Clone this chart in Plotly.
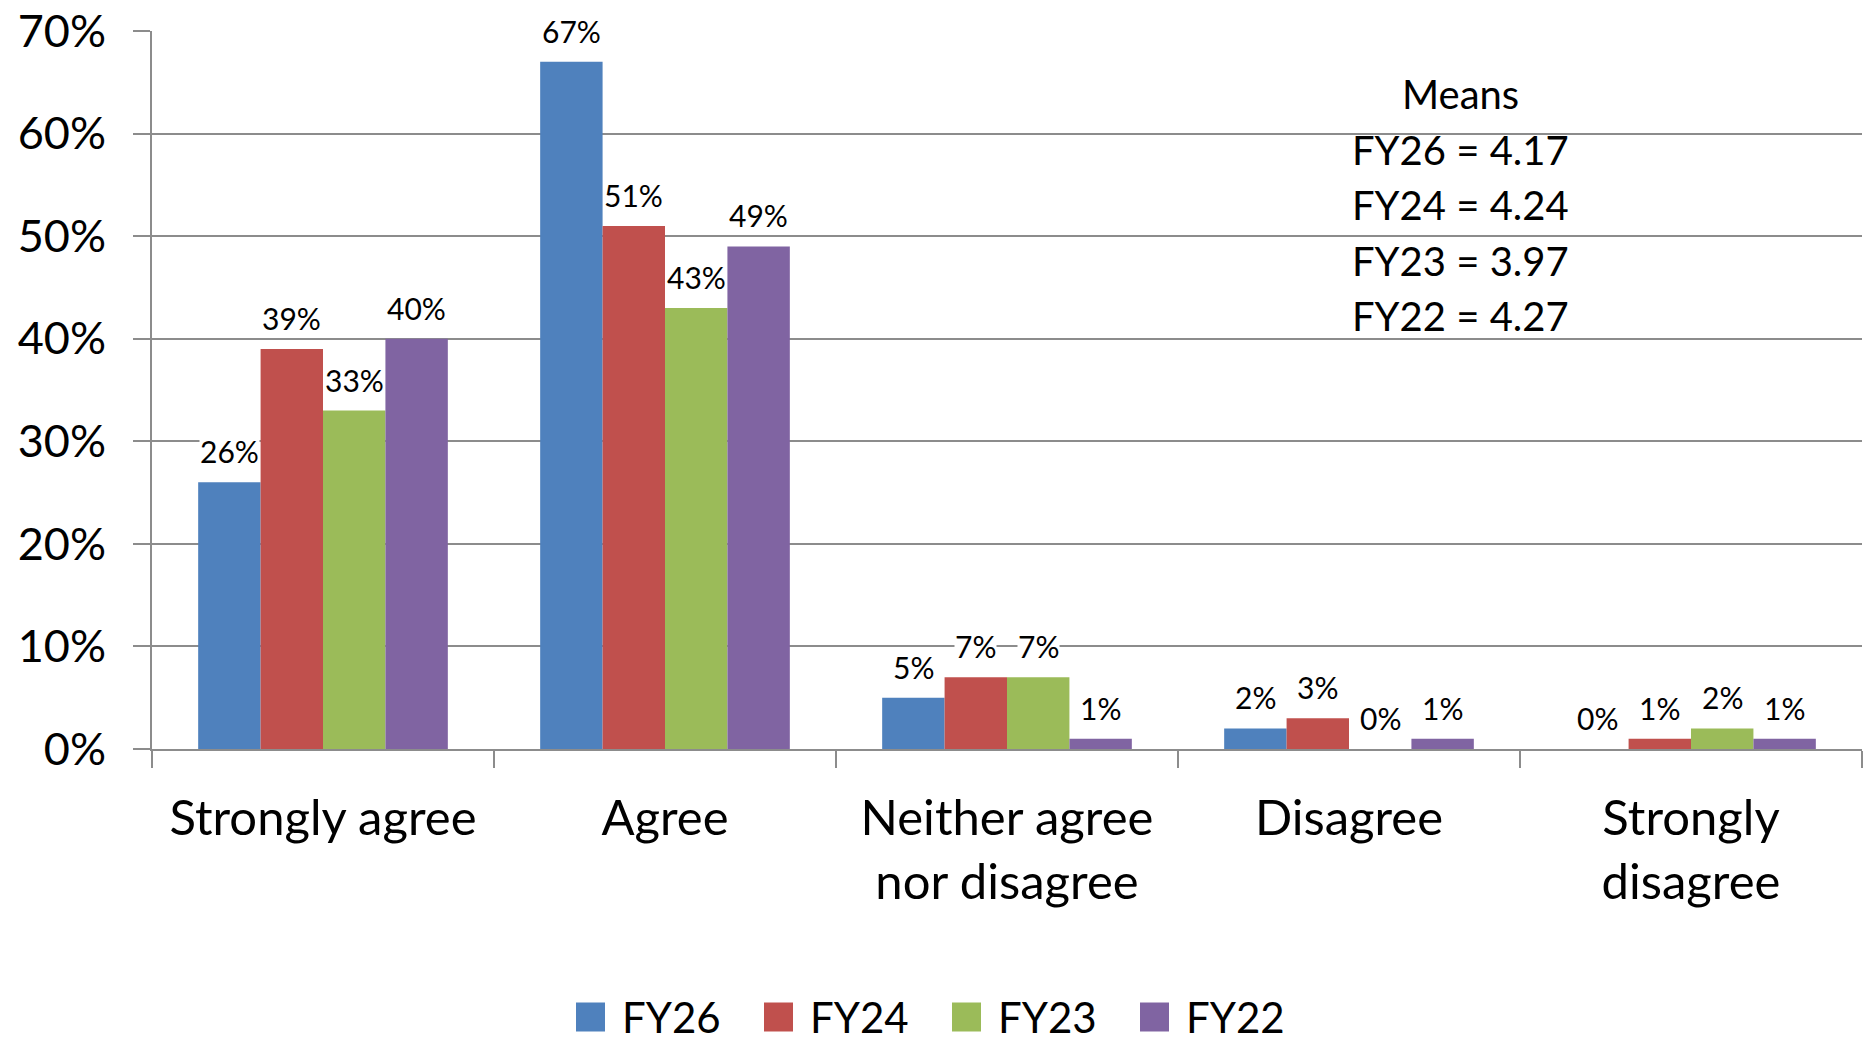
import plotly.graph_objects as go

# Survey response categories and the share of respondents per fiscal year
categories = ["Strongly agree", "Agree", "Neither agree<br>nor disagree", "Disagree", "Strongly<br>disagree"]
series_names = ["FY26", "FY24", "FY23", "FY22"]
fy26 = [0.26, 0.67, 0.05, 0.02, 0.00]
fy24 = [0.39, 0.51, 0.07, 0.03, 0.01]
fy23 = [0.33, 0.43, 0.07, 0.00, 0.02]
fy22 = [0.40, 0.49, 0.01, 0.01, 0.01]
means = [4.17, 4.24, 3.97, 4.27]
y_ticks = [0.0, 0.1, 0.2, 0.3, 0.4, 0.5, 0.6, 0.7]

series_values = [fy26, fy24, fy23, fy22]
colors = ["#4F81BD", "#C0504D", "#9BBB59", "#8064A2"]

FONT = "Lato"
W, H = 1866, 1042
M_L, M_R, M_T, M_B = 152, 4, 31, 293
PLOT_W = W - M_L - M_R
PLOT_H = H - M_T - M_B
BARGAP = 0.27
GRID = "#8C8C8C"


def px_x(px):
    return (px - M_L) / PLOT_W


def px_y(py):
    return (H - M_B - py) / PLOT_H


fig = go.Figure()
for name, vals, col in zip(series_names, series_values, colors):
    fig.add_trace(go.Bar(
        name=name, x=categories, y=vals,
        marker=dict(color=col, line=dict(width=0)),
        showlegend=False,
    ))

# value labels above each bar, on a white patch that hides the gridlines
group_px = PLOT_W / len(categories)
bar_px = group_px * (1 - BARGAP) / len(series_names)
annotations = []
for i, (vals, col) in enumerate(zip(series_values, colors)):
    offset = (i - (len(series_names) - 1) / 2) * bar_px
    for cat, v in zip(categories, vals):
        annotations.append(dict(
            x=cat, y=v, xref="x", yref="y",
            text=f"{round(v * 100)}%", showarrow=False,
            xanchor="center", yanchor="middle",
            xshift=offset, yshift=31,
            font=dict(family=FONT, size=30, color="black"),
            bgcolor="white", borderpad=0,
        ))

# means block
mean_lines = ["Means"] + [f"{n} = {m:.2f}" for n, m in zip(series_names, means)]
for k, line in enumerate(mean_lines):
    annotations.append(dict(
        x=px_x(1460), y=px_y(94), xref="paper", yref="paper",
        text=line, showarrow=False, xanchor="center", yanchor="middle",
        yshift=-55.5 * k,
        font=dict(family=FONT, size=40, color="black"),
    ))

# legend: coloured squares with series names
shapes = []
leg_x0 = 576
leg_step = 188
leg_cy = 1017
for i, (name, col) in enumerate(zip(series_names, colors)):
    sx = leg_x0 + i * leg_step
    shapes.append(dict(
        type="rect", xref="paper", yref="paper",
        x0=px_x(sx), x1=px_x(sx + 29), y0=px_y(leg_cy + 14.5), y1=px_y(leg_cy - 14.5),
        fillcolor=col, line=dict(width=0),
    ))
    annotations.append(dict(
        x=px_x(sx + 44), y=px_y(leg_cy), xref="paper", yref="paper",
        text=name, showarrow=False, xanchor="left", yanchor="middle",
        font=dict(family=FONT, size=42, color="black"),
    ))

fig.update_layout(
    width=W, height=H, autosize=False,
    margin=dict(l=M_L, r=M_R, t=M_T, b=M_B, pad=0),
    paper_bgcolor="white", plot_bgcolor="white",
    barmode="group", bargap=BARGAP, bargroupgap=0,
    font=dict(family=FONT, color="black"),
    annotations=annotations, shapes=shapes,
    showlegend=False,
)
fig.update_xaxes(
    type="category", tickson="boundaries",
    ticks="outside", ticklen=17, tickwidth=2, tickcolor=GRID,
    showline=True, linecolor=GRID, linewidth=2,
    showgrid=False,
    tickfont=dict(family=FONT, size=49, color="black"),
    ticklabelstandoff=25,
)
fig.update_yaxes(
    range=[0, 0.7], tickvals=y_ticks, tickformat=".0%",
    ticks="outside", ticklen=17, tickwidth=2, tickcolor=GRID,
    showline=True, linecolor=GRID, linewidth=2,
    showgrid=True, gridcolor=GRID, gridwidth=2,
    zeroline=False,
    tickfont=dict(family=FONT, size=45, color="black"),
    ticklabelstandoff=18,
)

fig.write_html("out.html")
